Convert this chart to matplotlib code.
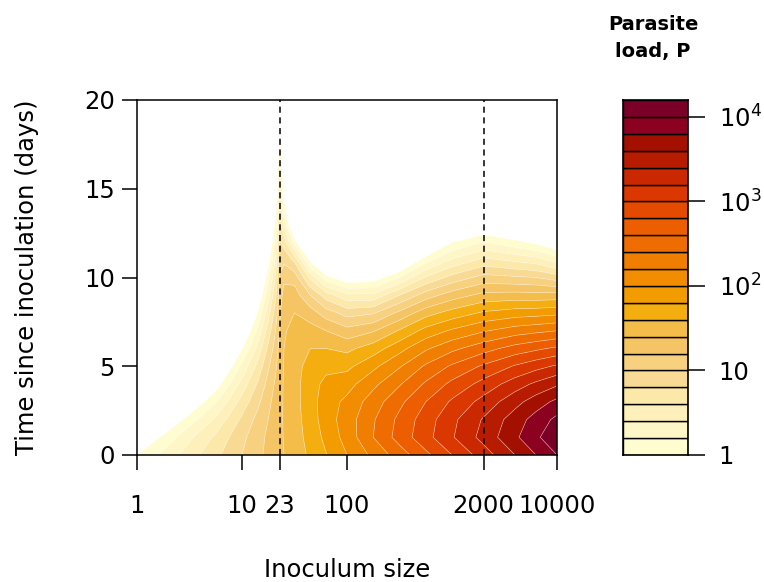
import numpy as np
import matplotlib
matplotlib.use("Agg")
import matplotlib.pyplot as plt

plt.rcParams['font.family'] = ['DejaVu Sans']

# ---- data (log10 scale values) ----
log_inoculum = [0.0, 0.25, 0.5, 0.75, 1.0, 1.15, 1.25, 1.32, 1.36, 1.40, 1.5,
                1.65, 1.8, 2.0, 2.25, 2.5, 2.75, 3.0, 3.3, 3.6, 3.8, 4.0]
days = [0, 1, 2, 3, 4, 5, 6, 7, 8, 9, 10, 11, 12, 13, 14, 15, 16, 17, 18, 19, 20]

# log10 parasite load; one row per inoculum size, one entry per day
log_load = [
    [0.0, -0.25, -0.5, -0.75, -1, -1, -1, -1, -1, -1, -1, -1, -1, -1, -1, -1, -1, -1, -1, -1, -1],
    [0.25, 0.03, -0.3, -0.6, -1, -1, -1, -1, -1, -1, -1, -1, -1, -1, -1, -1, -1, -1, -1, -1, -1],
    [0.5, 0.36, 0.09, -0.25, -0.6, -1, -1, -1, -1, -1, -1, -1, -1, -1, -1, -1, -1, -1, -1, -1, -1],
    [0.75, 0.64, 0.44, 0.18, -0.13, -0.45, -0.8, -1, -1, -1, -1, -1, -1, -1, -1, -1, -1, -1, -1, -1, -1],
    [1.0, 0.95, 0.84, 0.68, 0.48, 0.25, -0.03, -0.34, -0.7, -1, -1, -1, -1, -1, -1, -1, -1, -1, -1, -1, -1],
    [1.15, 1.12, 1.06, 0.95, 0.82, 0.66, 0.46, 0.25, 0.0, -0.27, -0.55, -0.85, -1, -1, -1, -1, -1, -1, -1, -1, -1],
    [1.25, 1.24, 1.2, 1.15, 1.07, 0.97, 0.84, 0.69, 0.52, 0.33, 0.12, -0.12, -0.38, -0.67, -1, -1, -1, -1, -1, -1, -1],
    [1.32, 1.315, 1.3, 1.27, 1.23, 1.17, 1.09, 1.0, 0.89, 0.76, 0.62, 0.45, 0.27, 0.07, -0.16, -0.3, -0.4, -0.5, -0.6, -0.7, -0.8],
    [1.36, 1.36, 1.354, 1.34, 1.33, 1.3, 1.27, 1.22, 1.17, 1.1, 1.02, 0.93, 0.83, 0.71, 0.58, 0.45, 0.3, 0.15, -0.05, -0.3, -0.5],
    [1.4, 1.41, 1.42, 1.42, 1.42, 1.41, 1.4, 1.38, 1.34, 1.28, 1.15, 0.95, 0.7, 0.38, 0.1, -0.15, -0.3, -0.4, -0.5, -0.6, -0.7],
    [1.48, 1.5, 1.52, 1.53, 1.53, 1.52, 1.5, 1.46, 1.4, 1.3, 1.12, 0.75, 0.08, -0.6, -1, -1, -1, -1, -1, -1, -1],
    [1.64, 1.68, 1.7, 1.72, 1.72, 1.68, 1.6, 1.48, 1.3, 1.0, 0.55, -0.1, -0.8, -1, -1, -1, -1, -1, -1, -1, -1],
    [1.79, 1.85, 1.9, 1.9, 1.85, 1.75, 1.6, 1.4, 1.1, 0.7, 0.07, -0.6, -1, -1, -1, -1, -1, -1, -1, -1, -1],
    [2.0, 2.08, 2.1, 2.05, 1.92, 1.75, 1.55, 1.27, 0.92, 0.45, -0.2, -0.85, -1, -1, -1, -1, -1, -1, -1, -1, -1],
    [2.25, 2.4, 2.38, 2.3, 2.15, 1.95, 1.7, 1.38, 0.98, 0.45, -0.15, -0.8, -1, -1, -1, -1, -1, -1, -1, -1, -1],
    [2.5, 2.68, 2.65, 2.55, 2.38, 2.18, 1.93, 1.62, 1.25, 0.8, 0.2, -0.45, -1, -1, -1, -1, -1, -1, -1, -1, -1],
    [2.75, 2.93, 2.9, 2.8, 2.63, 2.43, 2.17, 1.87, 1.52, 1.1, 0.62, 0.1, -0.5, -1, -1, -1, -1, -1, -1, -1, -1],
    [3.0, 3.18, 3.15, 3.03, 2.85, 2.63, 2.35, 2.03, 1.68, 1.3, 0.87, 0.42, -0.02, -0.5, -1, -1, -1, -1, -1, -1, -1],
    [3.3, 3.47, 3.42, 3.27, 3.07, 2.83, 2.52, 2.18, 1.83, 1.46, 1.07, 0.65, 0.2, -0.3, -0.8, -1, -1, -1, -1, -1, -1],
    [3.6, 3.76, 3.7, 3.53, 3.3, 3.02, 2.68, 2.3, 1.9, 1.48, 1.03, 0.55, 0.05, -0.45, -0.95, -1, -1, -1, -1, -1, -1],
    [3.8, 3.97, 3.88, 3.7, 3.44, 3.13, 2.76, 2.35, 1.92, 1.47, 1.0, 0.48, -0.07, -0.6, -1, -1, -1, -1, -1, -1, -1],
    [4.0, 4.12, 4.05, 3.85, 3.57, 3.23, 2.84, 2.4, 1.95, 1.48, 0.9, 0.3, -0.25, -0.8, -1, -1, -1, -1, -1, -1, -1],
]

levels = [0.0, 0.2, 0.4, 0.6, 0.8, 1.0, 1.2, 1.4, 1.6, 1.8, 2.0, 2.2,
          2.4, 2.6, 2.8, 3.0, 3.2, 3.4, 3.6, 3.8, 4.0, 4.2]
band_colors = ["#FFFCD0", "#FEF6C6", "#FEF0BA", "#FCE8A8", "#F8DA94", "#F7D080",
               "#F5C464", "#F4BC48", "#F4AE10", "#F39C00", "#F28C00", "#F07E00",
               "#EF6C00", "#EC5E00", "#E44A00", "#DA3800", "#CA2800", "#B81C00",
               "#A31000", "#8C0020", "#7B0028"]

x_ticks = [1, 10, 23, 100, 2000, 10000]
y_ticks = [0, 5, 10, 15, 20]
marker_inocula = [23, 2000]
cbar_ticks = [0, 1, 2, 3, 4]
cbar_labels = ["1", "10", "$\\mathregular{10^2}$", "$\\mathregular{10^3}$", "$\\mathregular{10^4}$"]

# ---- figure ----
W, H = 764, 582
FS = 17.5
fig = plt.figure(figsize=(W / 100, H / 100), dpi=100)

ax = fig.add_axes([137 / W, 127 / H, 420 / W, 355 / H])
Z = np.array(log_load).T
ax.contourf(log_inoculum, days, Z, levels=levels, colors=band_colors, antialiased=True)
ax.contour(log_inoculum, days, Z, levels=levels[1:-1], colors="white",
           linewidths=0.5, alpha=0.45)
for xv in marker_inocula:
    ax.axvline(np.log10(xv), color="black", lw=1.1, dashes=(4, 3))
ax.set_xlim(0, 4)
ax.set_ylim(0, 20)
ax.set_xticks(np.log10(x_ticks))
ax.set_xticklabels([str(v) for v in x_ticks])
ax.set_yticks(y_ticks)
ax.set_yticklabels([str(v) for v in y_ticks])
ax.tick_params(axis="x", direction="out", length=11, width=1.1, labelsize=FS, pad=17)
ax.tick_params(axis="y", direction="out", length=11, width=1.1, labelsize=FS, pad=5)
for s in ax.spines.values():
    s.set_linewidth(1.1)

fig.text(347 / W, 1 - 570 / H, "Inoculum size", ha="center", va="center", fontsize=FS)
fig.text(27 / W, 1 - 277 / H, "Time since inoculation (days)", ha="center", va="center",
         rotation=90, fontsize=FS)

# ---- colour key ----
cax = fig.add_axes([623 / W, 127 / H, 65 / W, 355 / H])
for lo, hi, c in zip(levels[:-1], levels[1:], band_colors):
    cax.bar(0.5, hi - lo, bottom=lo, width=1.0, color=c, edgecolor="black", linewidth=1.0)
cax.set_xlim(0, 1)
cax.set_ylim(levels[0], levels[-1])
cax.set_xticks([])
cax.yaxis.tick_right()
cax.set_yticks(cbar_ticks)
cax.set_yticklabels(cbar_labels)
cax.tick_params(axis="y", direction="out", length=12, width=1.1, labelsize=FS, pad=10)
for s in cax.spines.values():
    s.set_linewidth(1.2)

fig.text(653 / W, 1 - 30 / H, "Parasite", ha="center", va="baseline", fontsize=14,
         fontweight="bold")
fig.text(653 / W, 1 - 57 / H, "load, P", ha="center", va="baseline", fontsize=14,
         fontweight="bold")

fig.savefig("out.png", dpi=100)
